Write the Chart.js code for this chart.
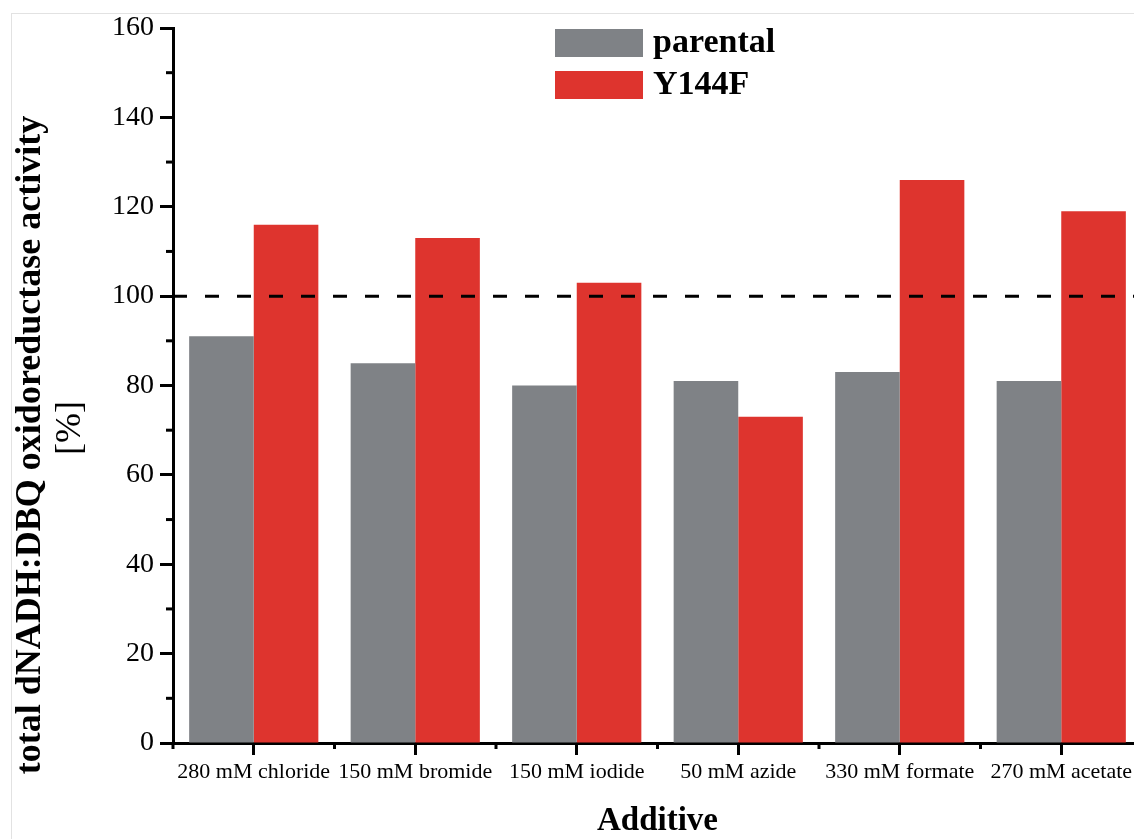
<!DOCTYPE html>
<html>
<head>
<meta charset="utf-8">
<script src="https://cdn.jsdelivr.net/npm/chart.js@4"></script>
<style>
  html, body { margin: 0; padding: 0; background: #fff; overflow: hidden; width: 1134px; height: 839px; }
  #frame { position: absolute; left: 11px; top: 13px; right: 0; bottom: 0; border-left: 1px solid #e2e2e2; border-top: 1px solid #e2e2e2; }
  #wrap { position: absolute; left: 0; top: 0; width: 1160px; height: 839px; }
</style>
</head>
<body>
<div id="frame"></div>
<div id="wrap"><canvas id="bar-chart" width="1160" height="839"></canvas></div>
<script>
const ctx1 = document.getElementById('bar-chart');

// data
const additives = ['280 mM chloride', '150 mM bromide', '150 mM iodide', '50 mM azide', '330 mM formate', '270 mM acetate']
const parental = [91, 85, 80, 81, 83, 81]
const y144f = [116, 113, 103, 73, 126, 119]
const refLevel = 100

const serif = "'Liberation Serif', 'DejaVu Serif', serif"

// short ticks, reference line, legend and axis titles
const extras = {
  id: 'extras',
  afterDatasetsDraw(chart) {
    const c = chart.ctx
    const x = chart.scales.x
    const y = chart.scales.y
    const area = chart.chartArea
    c.save()
    // dashed 100% line
    c.strokeStyle = '#000'
    c.lineWidth = 3
    c.setLineDash([14, 18])
    const yy = y.getPixelForValue(refLevel)
    c.beginPath()
    c.moveTo(area.left, yy)
    c.lineTo(area.right, yy)
    c.stroke()
    c.setLineDash([])
    c.restore()
  },
  afterDraw(chart) {
    const c = chart.ctx
    const x = chart.scales.x
    const y = chart.scales.y
    c.save()
    c.strokeStyle = '#000'
    c.lineWidth = 3
    // minor ticks on y
    for (let v = 10; v < 160; v += 20) {
      const p = y.getPixelForValue(v)
      c.beginPath()
      c.moveTo(y.right - 7, p)
      c.lineTo(y.right, p)
      c.stroke()
    }
    // minor ticks on x (between categories)
    for (let i = 0; i <= additives.length; i++) {
      const p = x.getPixelForValue(i - 0.5)
      c.beginPath()
      c.moveTo(p, x.top)
      c.lineTo(p, x.top + 6)
      c.stroke()
    }

    // legend
    c.textAlign = 'left'
    c.textBaseline = 'middle'
    c.font = 'bold 34px ' + serif
    chart.data.datasets.forEach((ds, i) => {
      const top = 29 + i * 42
      c.fillStyle = ds.backgroundColor
      c.fillRect(555, top, 88, 28)
      c.fillStyle = '#000'
      c.fillText(ds.label, 653, top + 14)
    })

    // axis titles
    c.textAlign = 'center'
    c.font = 'bold 33px ' + serif
    c.textBaseline = 'alphabetic'
    c.fillText('Additive', (chart.chartArea.left + chart.chartArea.right) / 2, 830)

    c.translate(31, 445)
    c.rotate(-Math.PI / 2)
    c.textBaseline = 'middle'
    c.font = 'bold 36px ' + serif
    c.fillText('total dNADH:DBQ oxidoreductase activity', 0, 0)
    c.font = '36px ' + serif
    c.fillText('[%]', 17, 40)
    c.restore()
  }
}

let config = {
  type: 'bar',
  data: {
    labels: additives,
    datasets: [{
      label: 'parental',
      data: parental,
      backgroundColor: '#7f8286',
      categoryPercentage: 0.8,
      barPercentage: 1.0
    }, {
      label: 'Y144F',
      data: y144f,
      backgroundColor: '#de342e',
      categoryPercentage: 0.8,
      barPercentage: 1.0
    }]
  },
  options: {
    responsive: false,
    animation: false,
    layout: { padding: { top: 28, right: 18, left: 0, bottom: 0 } },
    plugins: {
      legend: { display: false },
      tooltip: { enabled: false }
    },
    scales: {
      x: {
        afterFit: (s) => { s.height = 96 },
        grid: { display: true, drawOnChartArea: false, drawTicks: true, offset: false, tickLength: 12, tickWidth: 3, tickColor: '#000' },
        border: { display: true, color: '#000', width: 3 },
        ticks: { color: '#000', font: { family: serif, size: 22 }, padding: 4, maxRotation: 0, autoSkip: false }
      },
      y: {
        min: 0,
        max: 160,
        afterFit: (s) => { s.width = 173 },
        grid: { display: true, drawOnChartArea: false, drawTicks: true, tickLength: 13, tickWidth: 3, tickColor: '#000' },
        border: { display: true, color: '#000', width: 3 },
        ticks: { stepSize: 20, color: '#000', font: { family: serif, size: 28 }, padding: 6 }
      }
    }
  },
  plugins: [extras]
}

let chart = new Chart(ctx1, config)
</script>
</body>
</html>
